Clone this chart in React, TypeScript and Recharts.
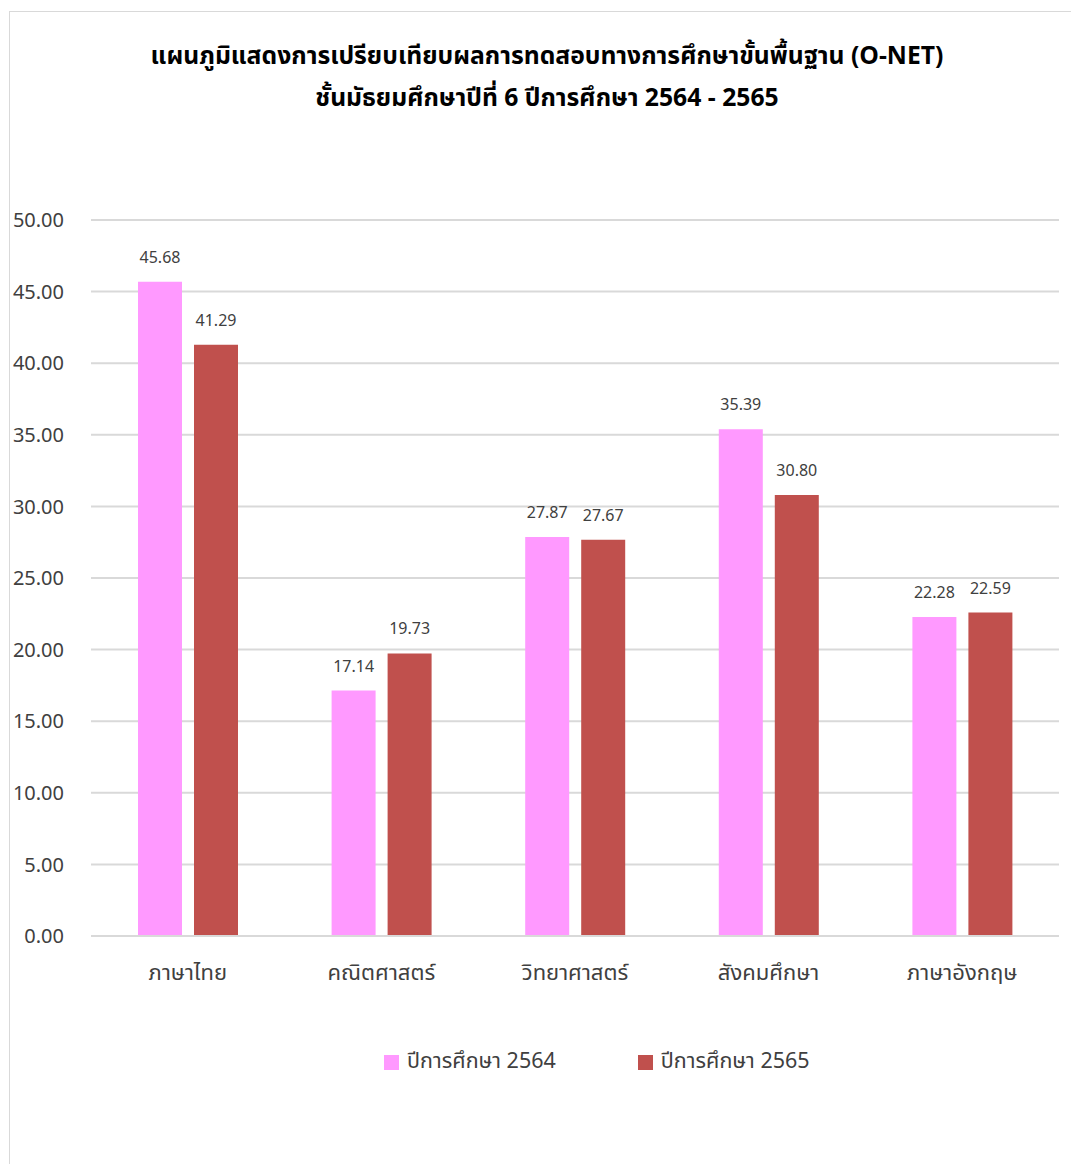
import React from "react";
import { BarChart, Bar, XAxis, YAxis, CartesianGrid, LabelList } from "recharts";

const categories = ["ภาษาไทย", "คณิตศาสตร์", "วิทยาศาสตร์", "สังคมศึกษา", "ภาษาอังกฤษ"];
const series2564 = [45.68, 17.14, 27.87, 35.39, 22.28];
const series2565 = [41.29, 19.73, 27.67, 30.8, 22.59];
const yTicks = [0, 5, 10, 15, 20, 25, 30, 35, 40, 45, 50];
const seriesNames = ["ปีการศึกษา 2564", "ปีการศึกษา 2565"];
const titleLines = [
  "แผนภูมิแสดงการเปรียบเทียบผลการทดสอบทางการศึกษาขั้นพื้นฐาน (O-NET)",
  "ชั้นมัธยมศึกษาปีที่ 6 ปีการศึกษา 2564 - 2565",
];

const data = categories.map((c, i) => ({ name: c, a: series2564[i], b: series2565[i] }));

const FONT = '"Noto Sans Thai", "Noto Sans", "DejaVu Sans", sans-serif';
const TEXT = "#404040";
const PINK = "#FF99FF";
const RED = "#C0504D";

export default function App() {
  return (
    <div style={{ position: "absolute", left: 0, top: 0, width: 1071, height: 1164, overflow: "hidden", background: "#fff" }}>
      <div
        style={{
          position: "absolute",
          left: 9,
          top: 11,
          width: 1080,
          height: 1200,
          border: "1px solid #d9d9d9",
          boxSizing: "border-box",
        }}
      />
      <div
        style={{
          position: "absolute",
          left: 0,
          top: 36,
          width: 1094,
          textAlign: "center",
          fontFamily: FONT,
          fontWeight: "bold",
          fontSize: 24.7,
          lineHeight: "42px",
          color: "#000",
        }}
      >
        <div>{titleLines[0]}</div>
        <div>{titleLines[1]}</div>
      </div>
      <div style={{ position: "absolute", left: 0, top: 0 }}>
        <BarChart
          width={1071}
          height={1164}
          data={data}
          margin={{ top: 220, right: 12, bottom: 198, left: 0 }}
          barGap={12}
        >
          <CartesianGrid vertical={false} stroke="#d9d9d9" strokeWidth={2} />
          <XAxis
            dataKey="name"
            height={30}
            axisLine={{ stroke: "#d9d9d9", strokeWidth: 2 }}
            tickLine={false}
            tickSize={0}
            tickMargin={28}
            tick={{ fill: TEXT, fontSize: 22, fontFamily: FONT }}
            interval={0}
          />
          <YAxis
            domain={[0, 50]}
            ticks={yTicks}
            width={91}
            axisLine={false}
            tickLine={false}
            tickSize={0}
            tickMargin={27}
            tickFormatter={(v: number) => v.toFixed(2)}
            tick={{ fill: TEXT, fontSize: 20, fontFamily: FONT }}
          />
          <Bar dataKey="a" name={seriesNames[0]} fill={PINK} barSize={44} isAnimationActive={false}>
            <LabelList
              dataKey="a"
              position="top"
              offset={19}
              formatter={(v: number) => v.toFixed(2)}
              style={{ fill: TEXT, fontSize: 16, fontFamily: FONT }}
            />
          </Bar>
          <Bar dataKey="b" name={seriesNames[1]} fill={RED} barSize={44} isAnimationActive={false}>
            <LabelList
              dataKey="b"
              position="top"
              offset={19}
              formatter={(v: number) => v.toFixed(2)}
              style={{ fill: TEXT, fontSize: 16, fontFamily: FONT }}
            />
          </Bar>
        </BarChart>
      </div>
      <div
        style={{
          position: "absolute",
          top: 1046,
          left: 384,
          display: "flex",
          alignItems: "center",
          fontFamily: FONT,
          fontSize: 21.5,
          lineHeight: "32px",
          color: TEXT,
        }}
      >
        <span style={{ width: 15, height: 15, background: PINK, display: "inline-block", marginRight: 8 }} />
        <span style={{ marginRight: 82 }}>{seriesNames[0]}</span>
        <span style={{ width: 15, height: 15, background: RED, display: "inline-block", marginRight: 8 }} />
        <span>{seriesNames[1]}</span>
      </div>
    </div>
  );
}
